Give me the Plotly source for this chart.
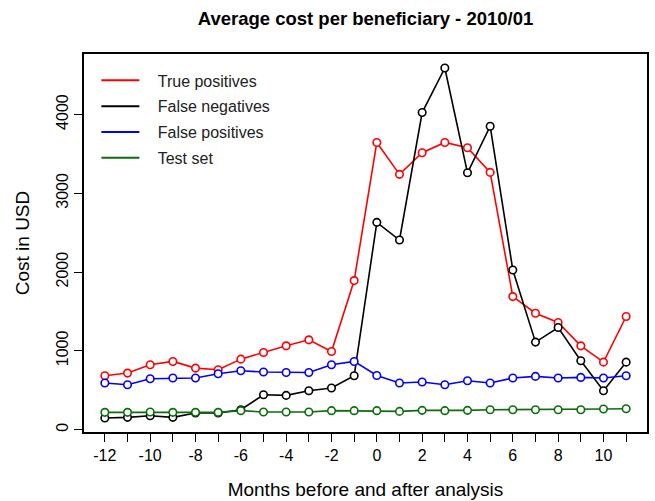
import plotly.graph_objects as go

months = list(range(-12, 12))
true_pos = [684, 718, 823, 866, 781, 760, 895, 980, 1064, 1140, 992, 1892,
            3645, 3240, 3514, 3645, 3577, 3265, 1689, 1478, 1360, 1064, 857, 1436]
false_neg = [148, 156, 177, 156, 211, 212, 253, 443, 435, 494, 528, 684,
             2631, 2407, 4025, 4590, 3260, 3851, 2027, 1111, 1296, 874, 494, 857]
false_pos = [592, 570, 646, 655, 655, 709, 747, 731, 726, 726, 823, 866,
             688, 592, 604, 570, 621, 592, 655, 676, 655, 663, 655, 684]
test_set = [220, 220, 224, 220, 220, 220, 241, 224, 224, 224, 241, 241,
            241, 232, 245, 241, 245, 253, 253, 253, 253, 253, 262, 266]

series_names = ["True positives", "False negatives", "False positives", "Test set"]
series_values = [true_pos, false_neg, false_pos, test_set]
series_colors = ["#ff0000", "#000000", "#0000ff", "#0b6e0b"]

y_ticks = [0, 1000, 2000, 3000, 4000]
x_ticks = list(range(-12, 12))
x_ticktext = [str(v) if v % 2 == 0 else "" for v in x_ticks]

FONT = "Liberation Sans, Arial, Helvetica, sans-serif"

fig = go.Figure()
for name, vals, col in zip(series_names, series_values, series_colors):
    fig.add_trace(go.Scatter(
        x=months, y=vals, mode="lines+markers", showlegend=False,
        line=dict(color=col, width=1.6),
        marker=dict(symbol="circle", size=7.5, color="white",
                    line=dict(color=col, width=1.6)),
        hoverinfo="x+y", name=name))
for i, (name, col) in enumerate(zip(series_names, series_colors)):
    fig.add_trace(go.Scatter(
        x=[None], y=[None], mode="lines", name="\u00a0\u00a0\u00a0" + name,
        line=dict(color=col, width=2), legendgroup=f"g{i}"))

all_vals = [v for s in series_values for v in s]
ymin, ymax = min(all_vals), max(all_vals)
ypad = 0.04 * (ymax - ymin)
xpad = 0.04 * (max(months) - min(months))

fig.update_layout(
    width=655, height=501,
    margin=dict(l=84, r=8, t=54, b=69),
    paper_bgcolor="white", plot_bgcolor="white",
    font=dict(family=FONT, size=16, color="black"),
    title=dict(text="<b>Average cost per beneficiary - 2010/01</b>",
               x=(84 + 647) / 2 / 655, xanchor="center",
               y=1 - 19 / 501, yanchor="middle",
               font=dict(family=FONT, size=18.5, color="black")),
    legend=dict(x=0.022, y=0.975, xanchor="left", yanchor="top",
                bgcolor="rgba(0,0,0,0)", borderwidth=0,
                font=dict(family=FONT, size=16, color="#222"),
                tracegroupgap=2, itemwidth=38),
    xaxis=dict(range=[min(months) - xpad, max(months) + xpad],
               tickvals=x_ticks, ticktext=x_ticktext,
               ticks="outside", ticklen=8, tickwidth=1, tickcolor="black",
               showline=True, linecolor="black", linewidth=1.5, mirror=True,
               showgrid=False, zeroline=False, automargin=False,
               title=dict(text="Months before and after analysis", standoff=20),
               tickfont=dict(size=16)),
    yaxis=dict(range=[ymin - ypad, ymax + ypad],
               tickvals=y_ticks,
               ticks="outside", ticklen=8, tickwidth=1, tickcolor="black",
               tickangle=-90,
               showline=True, linecolor="black", linewidth=1.5, mirror=True,
               showgrid=False, zeroline=False, automargin=False,
               title=dict(text="Cost in USD", standoff=19),
               tickfont=dict(size=16)),
)

fig.write_html("out.html")
